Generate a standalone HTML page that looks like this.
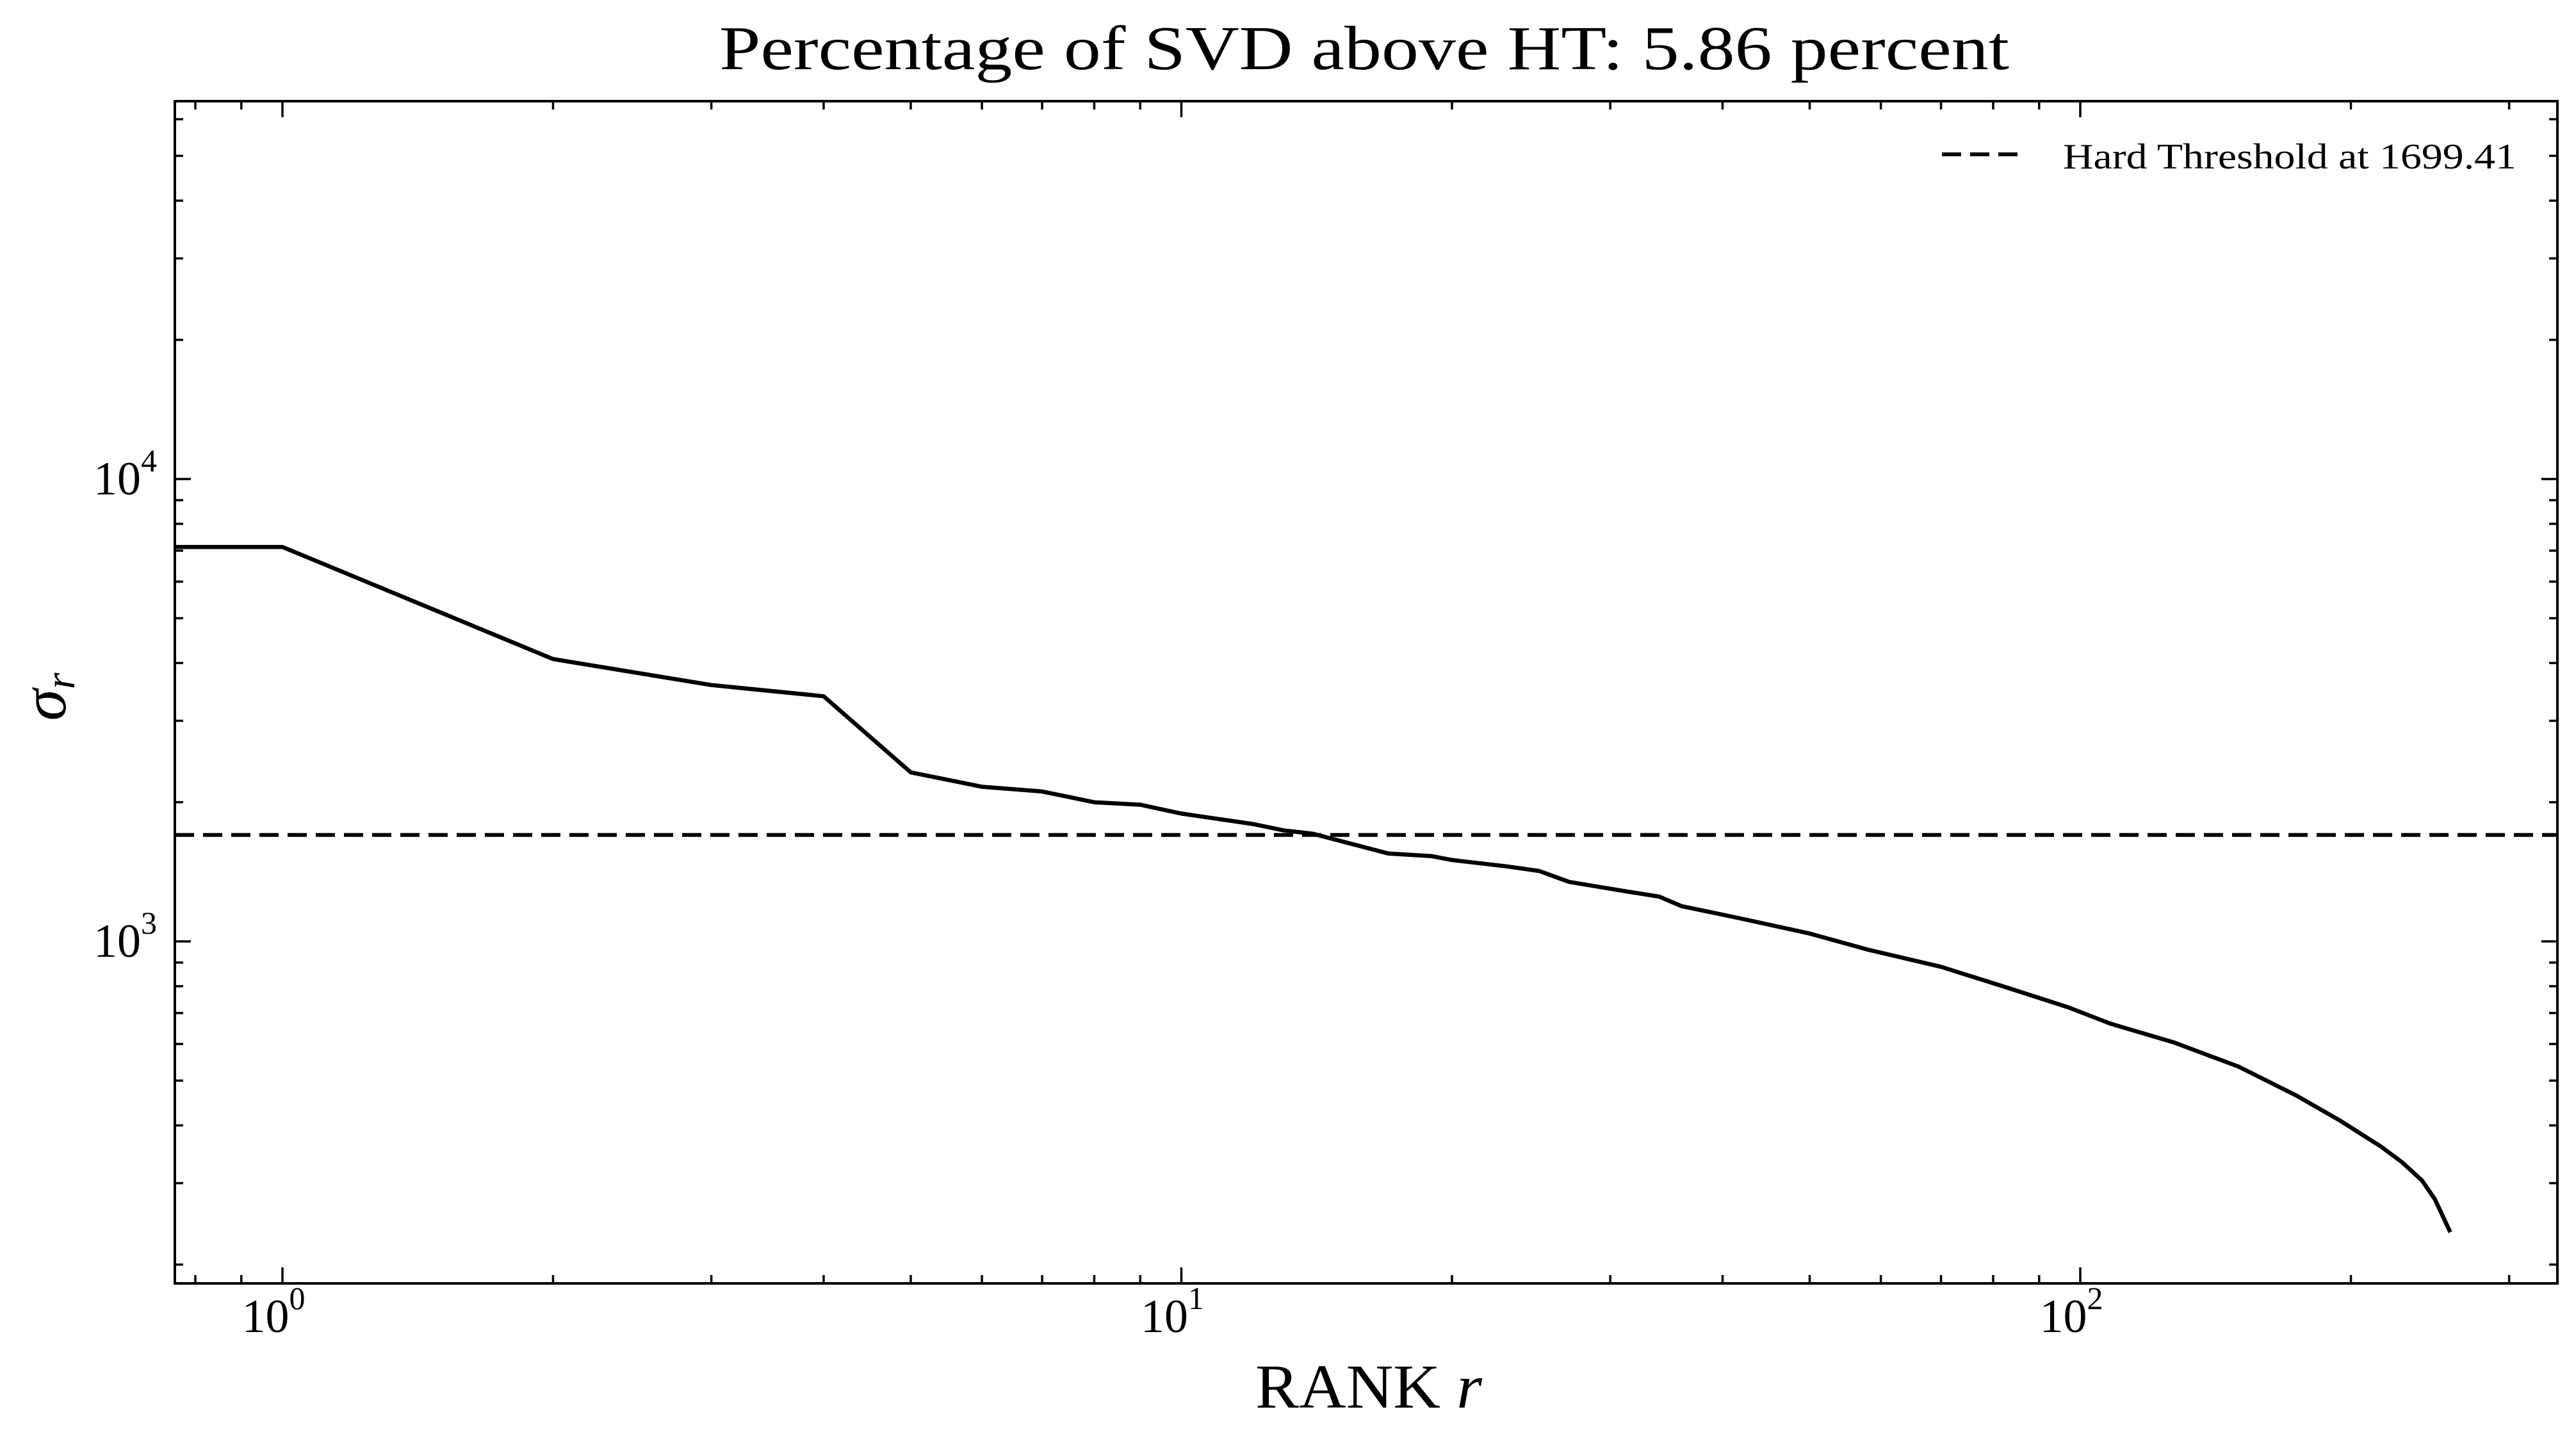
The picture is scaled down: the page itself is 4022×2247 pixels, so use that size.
<!DOCTYPE html>
<html><head><meta charset="utf-8"><style>
html,body{margin:0;padding:0;background:#fff;}
svg{display:block;}
text{font-family:"Liberation Serif","DejaVu Serif",serif;fill:#000;}
</style></head>
<body>
<svg id="chart" width="4022" height="2247" viewBox="0 0 4022 2247" xmlns="http://www.w3.org/2000/svg">
<rect x="0" y="0" width="4022" height="2247" fill="#fff"/>
<text x="2130" y="108" font-size="98" text-anchor="middle" textLength="2014" lengthAdjust="spacingAndGlyphs">Percentage of SVD above HT: 5.86 percent</text>
<text x="2137" y="2198" font-size="98" text-anchor="middle" textLength="354" lengthAdjust="spacingAndGlyphs">RANK <tspan font-style="italic">r</tspan></text>
<text transform="translate(102,1088) rotate(-90)" font-size="100" text-anchor="middle"><tspan font-style="italic">σ</tspan><tspan font-style="italic" font-size="66" dy="14">r</tspan></text>
<g id="ticks"></g>
<g id="marks"></g>
<rect x="273" y="158" width="3720" height="1846" fill="none" stroke="#000" stroke-width="4"/>
<g>
<line x1="3032" y1="241" x2="3164" y2="241" stroke="#000" stroke-width="6" stroke-dasharray="30,14"/>
<text x="3221" y="263" font-size="56" textLength="708" lengthAdjust="spacingAndGlyphs">Hard Threshold at 1699.41</text>
</g>
</svg>
<script>
const ranks = [0,1,2,3,4,5,6,7,8,9,10,12,13,14,17,19,20,23,25,27,31,34,36,42,50,58,70,82,97,108,127,150,174,194,216,228,240,248,258];
const sigmaValues = [7130,7130,4080,3585,3390,2320,2160,2110,2000,1975,1890,1795,1738,1710,1549,1529,1500,1453,1420,1345,1286,1250,1192,1120,1040,960,881,800,720,664,605,536,464,411,360,333,304,277,235];
const hardThreshold = [1699.41];
const xMajorTicks = [1,10,100];
const xMajorLabels = ["0","1","2"];
const yMajorTicks = [1000,10000];
const yMajorLabels = ["3","4"];

const L=273,R=3993,T=158,B=2004;
function xs(r){ if(r<=0) return L; return Math.max(L, 441 + 1403.5*Math.log10(r)); }
function ys(v){ return 748 + 722*(4 - Math.log10(v)); }
const NS="http://www.w3.org/2000/svg";
const tg=document.getElementById('ticks'), mg=document.getElementById('marks');
function ln(g,x1,y1,x2,y2,w){const l=document.createElementNS(NS,'line');l.setAttribute('x1',x1);l.setAttribute('y1',y1);l.setAttribute('x2',x2);l.setAttribute('y2',y2);l.setAttribute('stroke','#000');l.setAttribute('stroke-width',w);g.appendChild(l);return l;}

for(let e=-1;e<=2;e++){for(let m=1;m<=9;m++){const v=m*Math.pow(10,e);const x=xs(v);if(x<=L+1||x>=R-1)continue;const len=(m===1)?25:13;
 const a=ln(tg,x,B,x,B-len,3.5);
 
 
 const b=ln(tg,x,T,x,T+len,3.5);
 
 
}}
xMajorTicks.forEach((v,i)=>{const t=document.createElementNS(NS,'text');const x=xs(v);
 t.setAttribute('x',x-14);t.setAttribute('y',2080);t.setAttribute('font-size','74');t.setAttribute('text-anchor','middle');
 t.innerHTML='10<tspan font-size="50" dy="-36">'+xMajorLabels[i]+'</tspan>';
 
 
 tg.appendChild(t);});
for(let e=2;e<=4;e++){for(let m=1;m<=9;m++){const v=m*Math.pow(10,e);const y=ys(v);if(y<=T+1||y>=B-1)continue;const len=(m===1)?25:13;
 const a=ln(tg,L,y,L+len,y,3.5);
 
 
 const b=ln(tg,R,y,R-len,y,3.5);
 
 
}}
yMajorTicks.forEach((v,i)=>{const t=document.createElementNS(NS,'text');const y=ys(v);
 t.setAttribute('x',146);t.setAttribute('y',y+24);t.setAttribute('font-size','74');
 t.innerHTML='10<tspan font-size="50" dy="-36">'+yMajorLabels[i]+'</tspan>';
 
 
 tg.appendChild(t);});

const ht=ln(mg,L,ys(hardThreshold[0]),R,ys(hardThreshold[0]),6);
ht.setAttribute('stroke-dasharray','30,14');



const p=document.createElementNS(NS,'polyline');
p.setAttribute('points',ranks.map((r,i)=>xs(r).toFixed(1)+','+ys(sigmaValues[i]).toFixed(1)).join(' '));
p.setAttribute('fill','none');p.setAttribute('stroke','#000');p.setAttribute('stroke-width','6.5');p.setAttribute('stroke-linejoin','round');


mg.appendChild(p);
</script>
</body></html>
